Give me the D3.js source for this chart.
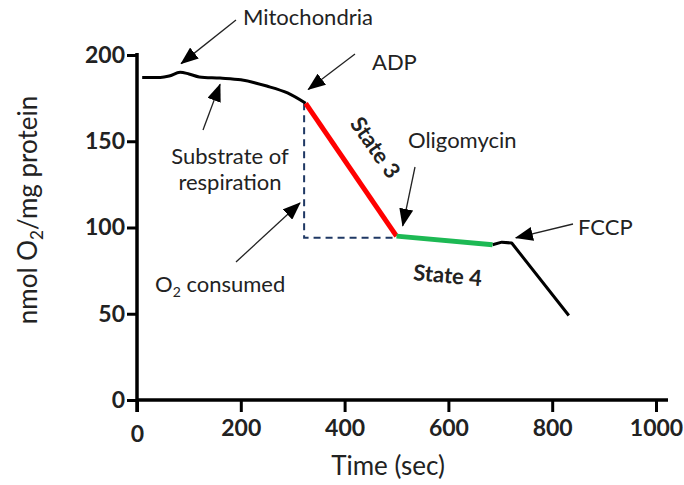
<!DOCTYPE html>
<html>
<head>
<meta charset="utf-8">
<script src="https://cdn.jsdelivr.net/npm/d3@7"></script>
<style>
  body { margin: 0; background: #fff; }
  text { font-family: Lato, "Open Sans", sans-serif; fill: #222; }
</style>
</head>
<body>
<div class="chart"></div>
<script>
// oxygen trace, split into the coloured phases
const baseTime = [10, 45, 62, 83, 100, 120, 160, 200, 250, 290, 325];
const baseO2   = [187, 187, 187.8, 190, 189, 187.3, 186.6, 185.6, 182, 178, 172];
const state3Time = [325, 500];
const state3O2   = [172, 95];
const state4Time = [500, 685];
const state4O2   = [95, 90];
const fccpTime = [685, 703, 722, 832];
const fccpO2   = [90, 91.5, 91, 49];

const xTicks = [0, 200, 400, 600, 800, 1000];
const yTicks = [0, 50, 100, 150, 200];

// annotations: label, text position, arrow tail (px), arrow tip (data units)
const notes = [
  {label: "Mitochondria", x: 243, y: 25, tail: [236, 20], tip: [85, 195]},
  {label: "ADP", x: 372, y: 70, tail: [355, 54], tip: [330, 180]},
  {label: "Oligomycin", x: 408, y: 148, tail: [415, 167], tip: [512, 101]},
  {label: "FCCP", x: 578, y: 235, tail: [573, 224], tip: [730, 94]},
];

const width = 684, height = 485;

const svg = d3.select(".chart").append("svg")
  .attr("width", width)
  .attr("height", height);

const x = d3.scaleLinear().domain([0, 1000]).range([137, 656]);
const y = d3.scaleLinear().domain([0, 200]).range([400, 55]);

// arrow head
svg.append("defs").append("marker")
  .attr("id", "head")
  .attr("markerUnits", "userSpaceOnUse")
  .attr("markerWidth", 18).attr("markerHeight", 14)
  .attr("viewBox", "0 0 18 14")
  .attr("refX", 17).attr("refY", 7)
  .attr("orient", "auto")
  .append("path").attr("d", "M0,0 L18,7 L0,14 Z").attr("fill", "#000");

// axes
const xAxis = d3.axisBottom(x).tickValues(xTicks).tickSize(12).tickSizeOuter(0).tickFormat(d3.format("d"));
const yAxis = d3.axisLeft(y).tickValues(yTicks).tickSize(10).tickSizeOuter(0);

const gx = svg.append("g").attr("transform", "translate(0,400)").call(xAxis);
const gy = svg.append("g").attr("transform", "translate(137,0)").call(yAxis);

[gx, gy].forEach(g => {
  g.select(".domain").remove();
  g.selectAll(".tick line").attr("stroke", "#000").attr("stroke-width", 3);
  g.selectAll(".tick text")
    .style("font-family", "Lato, 'Open Sans', sans-serif")
    .style("font-size", "23px").style("font-weight", "bold").attr("fill", "#111");
});
gx.selectAll(".tick text").attr("dy", null).attr("y", 36)
  .filter(d => d === 0).attr("y", 42);
gy.selectAll(".tick text").attr("x", -12);

// axis lines
svg.append("line").attr("x1", 137).attr("x2", 668).attr("y1", 400).attr("y2", 400)
  .attr("stroke", "#000").attr("stroke-width", 3.5);
svg.append("line").attr("x1", 137).attr("x2", 137).attr("y1", 53).attr("y2", 412)
  .attr("stroke", "#000").attr("stroke-width", 3.5);

// axis titles
svg.append("text").attr("x", 388).attr("y", 475).attr("text-anchor", "middle")
  .style("font-size", "26px").text("Time (sec)");

const yt = svg.append("text").attr("transform", "translate(37,210) rotate(-90)")
  .attr("text-anchor", "middle").style("font-size", "26px");
yt.append("tspan").text("nmol O");
yt.append("tspan").attr("dy", 6).style("font-size", "17px").text("2");
yt.append("tspan").attr("dy", -6).text("/mg protein");

// dashed O2 consumed guide
const guide = d3.line().x(d => x(d[0])).y(d => y(d[1]));
svg.append("path")
  .attr("d", guide([[state3Time[0] - 3, state3O2[0]], [state3Time[0] - 3, state3O2[1] - 1], [state3Time[1], state3O2[1] - 1]]))
  .attr("fill", "none").attr("stroke", "#1f3864").attr("stroke-width", 2)
  .attr("stroke-dasharray", "7,5");

// trace
const line = d3.line().x(d => x(d[0])).y(d => y(d[1])).curve(d3.curveMonotoneX);
const zip = (a, b) => a.map((t, i) => [t, b[i]]);

svg.append("path").attr("d", line(zip(baseTime, baseO2)))
  .attr("fill", "none").attr("stroke", "#000").attr("stroke-width", 3);
svg.append("path").attr("d", d3.line().x(d => x(d[0])).y(d => y(d[1]))(zip(fccpTime, fccpO2)))
  .attr("fill", "none").attr("stroke", "#000").attr("stroke-width", 3)
  .attr("stroke-linejoin", "round");
svg.append("path").attr("d", line(zip(state3Time, state3O2)))
  .attr("fill", "none").attr("stroke", "#ff0000").attr("stroke-width", 5);
svg.append("path").attr("d", line(zip(state4Time, state4O2)))
  .attr("fill", "none").attr("stroke", "#1db954").attr("stroke-width", 5);

// annotations with arrows
notes.forEach(n => {
  svg.append("text").attr("x", n.x).attr("y", n.y).style("font-size", "22px").text(n.label);
  svg.append("line")
    .attr("x1", n.tail[0]).attr("y1", n.tail[1])
    .attr("x2", x(n.tip[0])).attr("y2", y(n.tip[1]))
    .attr("stroke", "#222").attr("stroke-width", 1.3)
    .attr("marker-end", "url(#head)");
});

// substrate of respiration
svg.append("text").attr("x", 230).attr("y", 164).attr("text-anchor", "middle")
  .style("font-size", "22px").text("Substrate of");
svg.append("text").attr("x", 230).attr("y", 190).attr("text-anchor", "middle")
  .style("font-size", "22px").text("respiration");
svg.append("line").attr("x1", 203).attr("y1", 130).attr("x2", x(160)).attr("y2", y(183))
  .attr("stroke", "#222").attr("stroke-width", 1.3).attr("marker-end", "url(#head)");

// O2 consumed
const oc = svg.append("text").attr("x", 155).attr("y", 292).style("font-size", "22px");
oc.append("tspan").text("O");
oc.append("tspan").attr("dy", 5).style("font-size", "14px").text("2");
oc.append("tspan").attr("dy", -5).text(" consumed");
svg.append("line").attr("x1", 236).attr("y1", 262).attr("x2", 300).attr("y2", 203)
  .attr("stroke", "#222").attr("stroke-width", 1.3).attr("marker-end", "url(#head)");

// state labels
svg.append("text").attr("transform", "translate(369,152) rotate(55)")
  .attr("text-anchor", "middle").style("font-size", "22px").style("font-weight", "bold")
  .text("State 3");
svg.append("text").attr("transform", "translate(447,283) rotate(5)")
  .attr("text-anchor", "middle").style("font-size", "22px").style("font-weight", "bold")
  .text("State 4");
</script>
</body>
</html>
